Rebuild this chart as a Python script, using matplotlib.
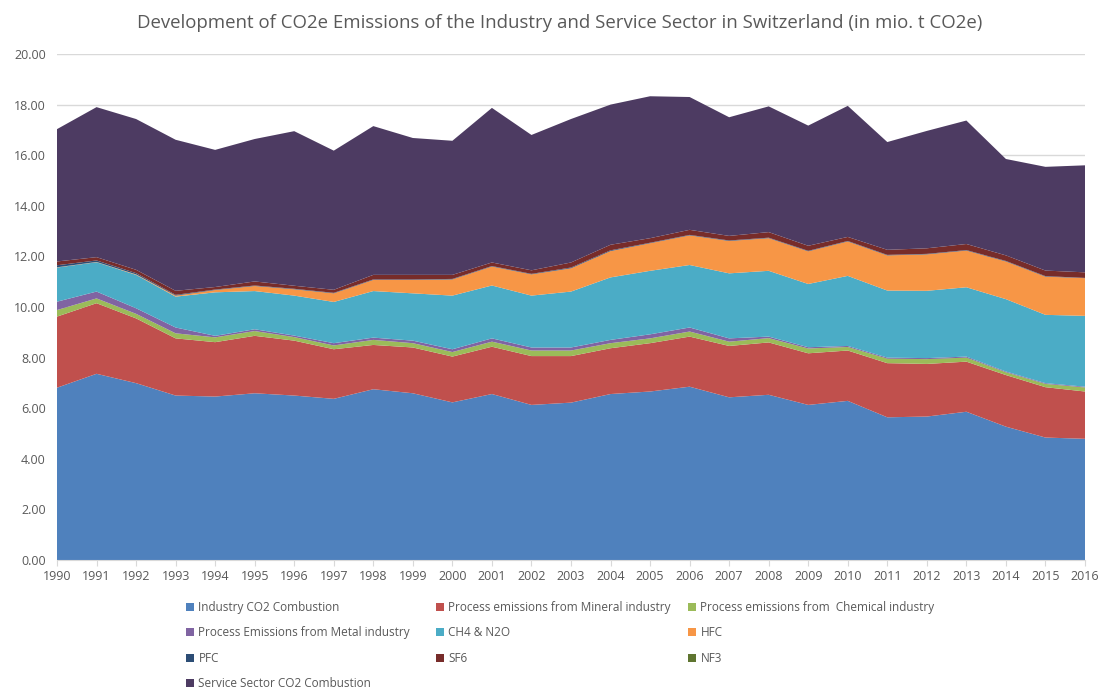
import numpy as np
import matplotlib.pyplot as plt
from matplotlib.patches import Patch

years = list(range(1990, 2017))

industry_co2 = [6.81, 7.36, 6.99, 6.50, 6.46, 6.59, 6.50, 6.37, 6.75, 6.59, 6.23, 6.56, 6.13, 6.22,
                6.56, 6.66, 6.85, 6.43, 6.53, 6.13, 6.29, 5.64, 5.67, 5.86, 5.27, 4.84, 4.79]
mineral = [2.81, 2.79, 2.56, 2.26, 2.15, 2.27, 2.17, 1.96, 1.75, 1.81, 1.81, 1.87, 1.93, 1.84,
           1.81, 1.91, 1.98, 2.03, 2.07, 2.04, 1.99, 2.14, 2.08, 1.98, 2.04, 1.99, 1.87]
chemical = [0.26, 0.19, 0.18, 0.20, 0.19, 0.19, 0.14, 0.15, 0.20, 0.17, 0.18, 0.20, 0.22, 0.22,
            0.20, 0.19, 0.20, 0.17, 0.17, 0.19, 0.14, 0.18, 0.19, 0.16, 0.11, 0.13, 0.16]
metal = [0.33, 0.27, 0.22, 0.23, 0.06, 0.07, 0.06, 0.09, 0.09, 0.10, 0.11, 0.13, 0.12, 0.12,
         0.13, 0.16, 0.16, 0.13, 0.06, 0.05, 0.04, 0.04, 0.04, 0.04, 0.03, 0.03, 0.03]
ch4_n2o = [1.35, 1.16, 1.32, 1.22, 1.72, 1.51, 1.58, 1.63, 1.84, 1.87, 2.12, 2.09, 2.05, 2.21,
           2.47, 2.51, 2.47, 2.57, 2.60, 2.50, 2.77, 2.65, 2.66, 2.74, 2.86, 2.70, 2.80]
hfc = [0.01, 0.01, 0.02, 0.04, 0.09, 0.20, 0.25, 0.34, 0.44, 0.53, 0.64, 0.75, 0.84, 0.92,
       1.04, 1.09, 1.17, 1.28, 1.29, 1.29, 1.36, 1.39, 1.44, 1.45, 1.49, 1.51, 1.49]
pfc = [0.08, 0.06, 0.05, 0.03, 0.02, 0.02, 0.02, 0.02, 0.02, 0.02, 0.02, 0.02, 0.02, 0.03,
       0.03, 0.02, 0.02, 0.02, 0.02, 0.02, 0.02, 0.02, 0.02, 0.02, 0.02, 0.02, 0.01]
sf6 = [0.15, 0.13, 0.13, 0.16, 0.10, 0.16, 0.12, 0.12, 0.18, 0.18, 0.16, 0.14, 0.14, 0.20,
       0.22, 0.18, 0.20, 0.18, 0.22, 0.20, 0.16, 0.20, 0.22, 0.24, 0.22, 0.22, 0.22]
nf3 = [0.0] * 27
service_co2 = [5.23, 5.93, 5.96, 5.97, 5.42, 5.63, 6.11, 5.50, 5.88, 5.41, 5.30, 6.11, 5.35, 5.67,
               5.54, 5.61, 5.25, 4.69, 4.97, 4.75, 5.18, 4.26, 4.64, 4.88, 3.81, 4.10, 4.23]

labels = ['Industry CO2 Combustion', 'Process emissions from Mineral industry',
          'Process emissions from  Chemical industry', 'Process Emissions from Metal industry',
          'CH4 & N2O', 'HFC', 'PFC', 'SF6', 'NF3', 'Service Sector CO2 Combustion']
colors = ['#4F81BD', '#C0504D', '#9BBB59', '#8064A2', '#4BACC6', '#F79646',
          '#2C4D75', '#772C2A', '#5F7530', '#4D3B62']

series = [industry_co2, mineral, chemical, metal, ch4_n2o, hfc, pfc, sf6, nf3, service_co2]

plt.rcParams['font.family'] = ['Open Sans', 'DejaVu Sans']
grey = '#595959'

fig = plt.figure(figsize=(11, 6.89), dpi=100)
ax = fig.add_axes([57 / 1100, 1 - 560 / 689, 1028 / 1100, 506 / 689])

ax.stackplot(years, *series, colors=colors, labels=labels, linewidth=0)

ax.set_xlim(1990, 2016)
ax.set_ylim(0, 20)
ax.set_yticks(np.arange(0, 20.01, 2))
ax.set_yticklabels([f'{v:.2f}' for v in np.arange(0, 20.01, 2)])
ax.set_xticks(years)
ax.grid(axis='y', color='#D9D9D9', linewidth=1)
ax.set_axisbelow(True)
for s in ['top', 'right', 'left']:
    ax.spines[s].set_visible(False)
ax.spines['bottom'].set_color('#D9D9D9')
ax.tick_params(axis='y', length=0, labelsize=9, labelcolor=grey, pad=8)
ax.tick_params(axis='x', length=4, color='#D9D9D9', labelsize=9, labelcolor=grey)

fig.text(0.509, 1 - 23 / 689, 'Development of CO2e Emissions of the Industry and Service Sector in Switzerland (in mio. t CO2e)',
         ha='center', va='center', fontsize=13.4, color=grey)

# legend laid out as three columns, read row by row
columns = [[0, 3, 6, 9], [1, 4, 7], [2, 5, 8]]
col_x = [186, 436, 688]
for idx, x0 in zip(columns, col_x):
    handles = [Patch(facecolor=colors[i], edgecolor='none') for i in idx]
    fig.legend(handles, [labels[i] for i in idx], loc='upper left',
               bbox_to_anchor=(x0 / 1100, 1 - 601 / 689), frameon=False, fontsize=8.5,
               labelcolor=grey, handlelength=0.7, handleheight=0.7, handletextpad=0.35,
               labelspacing=1.05, borderpad=0, borderaxespad=0)

fig.savefig('out.png', dpi=100)
